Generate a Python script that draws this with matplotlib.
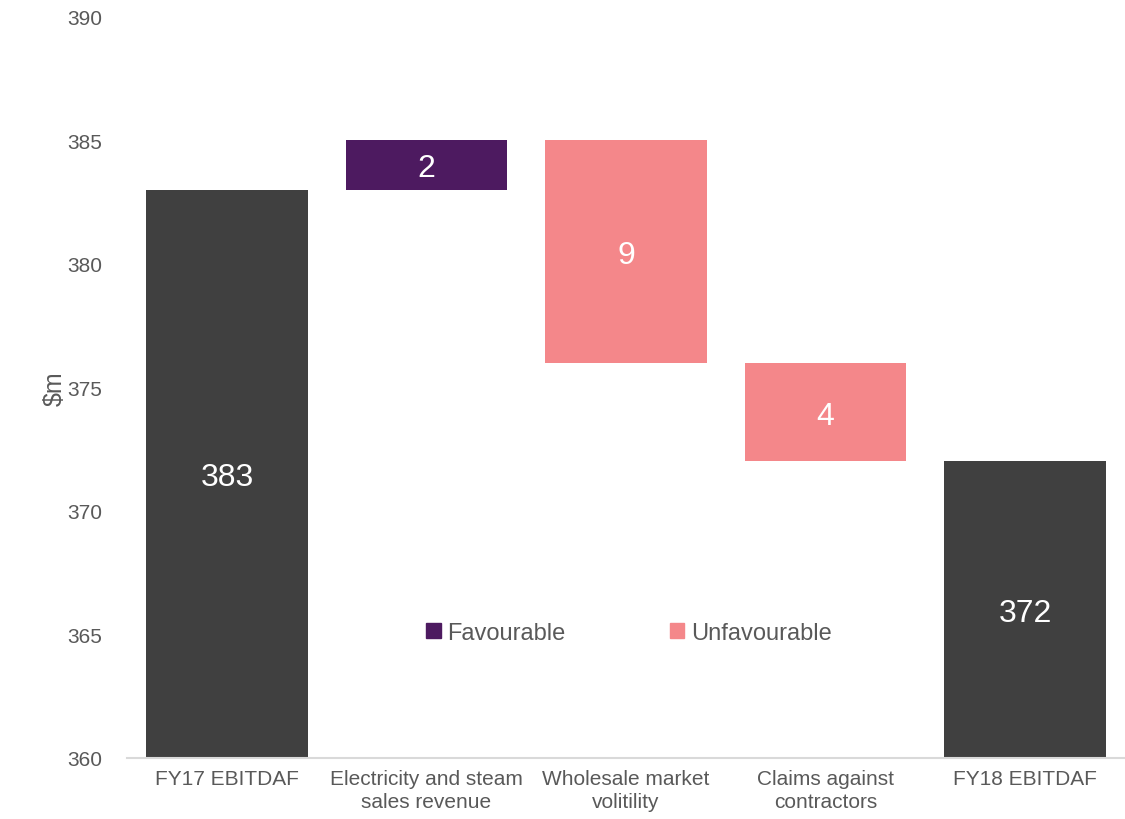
import matplotlib.pyplot as plt

plt.rcParams['font.family'] = ['Liberation Sans', 'DejaVu Sans']

categories = ["FY17 EBITDAF", "Electricity and steam\nsales revenue",
              "Wholesale market\nvolitility", "Claims against\ncontractors", "FY18 EBITDAF"]
start_value = 383
changes = [2, -9, -4]
end_value = 372
y_ticks = [360, 365, 370, 375, 380, 385, 390]

dark = "#404040"
fav = "#4D1A60"
unfav = "#F4878A"
text_grey = "#595959"
base = y_ticks[0]

fig = plt.figure(figsize=(11.25, 8.2), dpi=100)
ax = fig.add_axes([0.113, 0.0744, 0.887, 0.904])

x = range(len(categories))
width = 0.81

# opening total
ax.bar(0, start_value - base, bottom=base, width=width, color=dark)
ax.text(0, (start_value + base) / 2, str(start_value), ha="center", va="center_baseline",
        color="white", fontsize=23)

# movements
level = start_value
for i, c in enumerate(changes, start=1):
    low = min(level, level + c)
    ax.bar(i, abs(c), bottom=low, width=width, color=fav if c > 0 else unfav)
    ax.text(i, low + abs(c) / 2, str(abs(c)), ha="center", va="center_baseline",
            color="white", fontsize=23)
    level += c

# closing total
n = len(categories) - 1
ax.bar(n, end_value - base, bottom=base, width=width, color=dark)
ax.text(n, (end_value + base) / 2, str(end_value), ha="center", va="center_baseline",
        color="white", fontsize=23)

ax.set_xlim(-0.5, len(categories) - 0.5)
ax.set_ylim(y_ticks[0], y_ticks[-1])
ax.set_yticks(y_ticks)
ax.set_xticks(list(x))
ax.set_xticklabels(categories, fontsize=15, color=text_grey, linespacing=1.25)
ax.tick_params(axis="y", length=0, labelsize=15, labelcolor=text_grey, pad=18)
ax.tick_params(axis="x", length=0, pad=8)
for s in ["top", "right", "left"]:
    ax.spines[s].set_visible(False)
ax.spines["bottom"].set_color("#D9D9D9")
ax.spines["bottom"].set_linewidth(1.5)
ax.spines["bottom"].set_zorder(5)
ax.set_ylabel("$m", fontsize=18, color=text_grey, labelpad=0)

handles = [plt.Rectangle((0, 0), 1, 1, color=fav), plt.Rectangle((0, 0), 1, 1, color=unfav)]
leg = ax.legend(handles, ["Favourable", "Unfavourable"], ncol=2, frameon=False,
                loc="center", bbox_to_anchor=(0.503, 0.169), fontsize=17,
                handlelength=0.6, handleheight=0.6, handletextpad=0.3, columnspacing=4.4)
for t in leg.get_texts():
    t.set_color(text_grey)

fig.savefig("out.png", dpi=100)
